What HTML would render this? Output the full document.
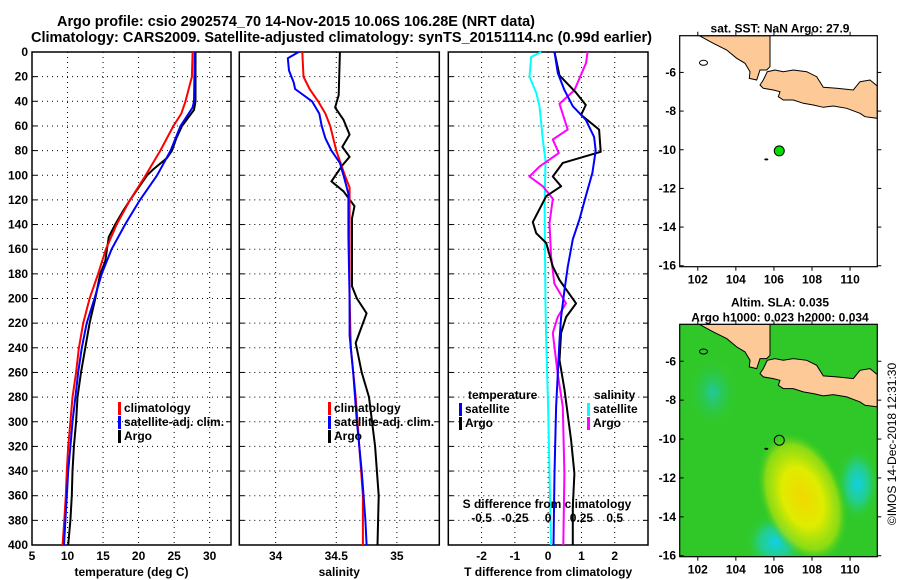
<!DOCTYPE html>
<html><head><meta charset="utf-8"><style>
body{margin:0;background:#fff;}
svg{display:block;font-family:"Liberation Sans",Arial,sans-serif;font-weight:bold;}
</style></head><body>
<svg id="c" width="900" height="580" viewBox="0 0 900 580">
<defs>
<radialGradient id="gy" cx="0.5" cy="0.5" r="0.5"><stop offset="0" stop-color="#f0d800"/><stop offset="0.45" stop-color="#e0ec00"/><stop offset="0.8" stop-color="#a0e010" stop-opacity="0.8"/><stop offset="1" stop-color="#30cc20" stop-opacity="0"/></radialGradient>
<radialGradient id="gc" cx="0.5" cy="0.5" r="0.5"><stop offset="0" stop-color="#10d0e8"/><stop offset="0.5" stop-color="#20d0a0" stop-opacity="0.8"/><stop offset="1" stop-color="#30cc20" stop-opacity="0"/></radialGradient>
<radialGradient id="gc2" cx="0.5" cy="0.5" r="0.5"><stop offset="0" stop-color="#20c8a0"/><stop offset="1" stop-color="#30c830" stop-opacity="0"/></radialGradient>
<clipPath id="m2clip"><rect x="679.7" y="324.3" width="197.6" height="232.4"/></clipPath>
<clipPath id="m1clip"><rect x="679.7" y="35.7" width="197.6" height="231"/></clipPath>
</defs>
<text x="57" y="26" font-size="14.5" textLength="478" lengthAdjust="spacingAndGlyphs">Argo profile: csio 2902574_70 14-Nov-2015 10.06S 106.28E (NRT data)</text>
<text x="31" y="42" font-size="14.5" textLength="621" lengthAdjust="spacingAndGlyphs">Climatology: CARS2009. Satellite-adjusted climatology: synTS_20151114.nc (0.99d earlier)</text>
<g id="g"></g>
</svg>
<script>
// ---- data ----
const depthTicks = [0,20,40,60,80,100,120,140,160,180,200,220,240,260,280,300,320,340,360,380,400];
const tempTicks = [5,10,15,20,25,30];
const salTicks = [34,34.5,35];
const tdiffTicks = [-2,-1,0,1,2];
const sdiffTicks = [-0.5,-0.25,0,0.25,0.5];
const sdiffTickLabels = ["-0.5","-0.25","0","0.25","0.5"];
const latTicks = [-6,-8,-10,-12,-14,-16];
const lonTicks = [102,104,106,108,110];

const climTDepth = [0,20,40,50,60,80,100,120,140,160,180,200,220,240,260,280,300,320,340,360,380,400];
const climTemp =   [27.6,27.5,26.6,26,24.9,23.05,21.0,18.8,16.9,15.4,14.3,13.1,12.2,11.6,11.2,10.7,10.4,10.1,9.9,9.75,9.55,9.3];
const satTDepth = [0,40,45,60,80,100,120,140,160,180,200,220,240,260,280,300,320,340,360,380,400];
const satTemp =   [27.9,27.8,27.6,25.9,24.5,22.6,20.2,18.1,16.2,14.8,13.8,12.7,12.0,11.5,11.1,10.7,10.4,10.1,9.9,9.7,9.5];
const argoTDepth = [0,40,47,60,70,80,86,95,100,120,130,140,150,170,180,200,220,240,260,280,300,320,340,360,380,400];
const argoTemp =   [28.0,28.0,27.8,26.1,25.3,24.7,24.0,22.1,21.2,18.8,17.7,16.7,15.8,15.3,14.6,13.9,13.1,12.5,11.9,11.4,11.2,10.9,10.7,10.6,10.4,10.1];

const climSDepth = [0,20,30,40,50,60,80,100,110,200,240,280,320,360,400];
const climSal =    [34.22,34.23,34.28,34.35,34.41,34.45,34.50,34.57,34.61,34.61,34.62,34.66,34.69,34.72,34.72];
const satSDepth = [0,5,15,25,30,40,50,60,70,80,90,100,115,150,200,230,260,300,340,380,400];
const satSal =    [34.19,34.10,34.11,34.15,34.16,34.30,34.36,34.38,34.41,34.46,34.53,34.56,34.60,34.60,34.61,34.61,34.64,34.67,34.71,34.74,34.75];
const argoSDepth = [0,35,45,55,67,77,85,92,105,113,125,135,190,200,212,236,260,280,320,360,400];
const argoSal =    [34.53,34.52,34.49,34.56,34.61,34.55,34.61,34.55,34.46,34.56,34.65,34.63,34.63,34.67,34.75,34.66,34.71,34.77,34.82,34.85,34.84];

const satDTDepth = [0,17,31,44,55,69,80,98,117,136,152,174,193,215,234,261,288,342,400];
const satDT =      [0.19,0.29,0.49,0.74,1.13,1.38,1.43,1.33,1.13,0.94,0.74,0.59,0.49,0.39,0.34,0.29,0.24,0.19,0.16];
const argoDTDepth = [0,19,33,43,51,63,81,90,101,109,117,138,147,155,174,185,204,215,228,250,274,315,342,369,400];
const argoDT =      [0.19,0.34,0.84,1.13,0.99,1.53,1.58,0.44,0.14,0.39,-0.06,-0.46,-0.36,-0.06,0.14,0.34,0.84,0.54,0.39,0.34,0.49,0.69,0.79,0.74,0.74];
const satDSDepth = [0,4,20,33,44,71,88,125,206,233,288,342,400];
const satDS =      [-0.052,-0.127,-0.14,-0.09,-0.065,-0.04,-0.02,-0.027,-0.02,-0.015,0,0.01,0.022];
const argoDSDepth = [0,9,31,42,63,71,82,93,101,109,119,139,166,188,204,215,228,261,288,342,400];
const argoDS =      [0.296,0.284,0.197,0.085,0.147,0.035,0.08,-0.065,-0.14,-0.04,0.035,0.01,0.022,0.047,0.134,0.072,0.035,0.072,0.11,0.122,0.114];

const argoLon = [106.28];
const argoLat = [-10.06];

// ---- drawing ----
const NS="http://www.w3.org/2000/svg";
const G=document.getElementById('g');
function el(tag,attrs,parent,txt){const e=document.createElementNS(NS,tag);for(const k in attrs)e.setAttribute(k,attrs[k]);if(txt!==undefined)e.textContent=txt;(parent||G).appendChild(e);return e;}
const pTop=52,pBot=545;
const yD=d=>pTop+(d/400)*(pBot-pTop);
const panels=[
 {x0:32,x1:231,min:5,max:33,ticks:tempTicks,label:'temperature (deg C)',name:'temperature'},
 {x0:239.3,x1:439.3,min:33.7,max:35.35,ticks:salTicks,label:'salinity',name:'salinity'},
 {x0:448.3,x1:648,min:-3,max:3,ticks:tdiffTicks,label:'T difference from climatology',name:'difference'}
];
panels.forEach((p,i)=>{
 p.sx=v=>p.x0+(v-p.min)/(p.max-p.min)*(p.x1-p.x0);
 const g=el('g',{});
 
 
 depthTicks.forEach(d=>{
  if(d>0&&d<400){const l=el('line',{x1:p.x0,x2:p.x1,y1:yD(d),y2:yD(d),stroke:'#000','stroke-dasharray':'1,4','stroke-width':1},g);
   }
  el('line',{x1:p.x0,x2:p.x0+5,y1:yD(d),y2:yD(d),stroke:'#000'},g);
  el('line',{x1:p.x1-5,x2:p.x1,y1:yD(d),y2:yD(d),stroke:'#000'},g);
  if(i===0){const t=el('text',{x:28,y:yD(d)+4,'font-size':12,'text-anchor':'end'},g,String(d));
   }
 });
 p.ticks.forEach(v=>{
  const x=p.sx(v);
  if(x>p.x0+1){const l=el('line',{x1:x,x2:x,y1:pTop,y2:pBot,stroke:'#000','stroke-dasharray':'1,4'},g);
   }
  const t=el('text',{x:x,y:560,'font-size':12,'text-anchor':'middle'},g,String(v));
  
 });
 const fr=el('rect',{x:p.x0,y:pTop,width:p.x1-p.x0,height:pBot-pTop,fill:'none',stroke:'#000','stroke-width':1.5},g);
 
 const at=el('text',{x:(p.x0+p.x1)/2,y:576,'font-size':12,'text-anchor':'middle'},g,p.label);
 
});
function line(p,vals,deps,color,name,sc){
 const pts=vals.map((v,k)=>(p.sx(v*(sc||1))).toFixed(1)+','+yD(deps[k]).toFixed(1)).join(' ');
 const pl=el('polyline',{points:pts,fill:'none',stroke:color,'stroke-width':2,'stroke-linejoin':'round'});
 
 
}
line(panels[0],argoTemp,argoTDepth,'#000','argo-temperature-line');
line(panels[0],climTemp,climTDepth,'#f00','climatology-temperature-line');
line(panels[0],satTemp,satTDepth,'#00f','satellite-temperature-line');
line(panels[1],argoSal,argoSDepth,'#000','argo-salinity-line');
line(panels[1],climSal,climSDepth,'#f00','climatology-salinity-line');
line(panels[1],satSal,satSDepth,'#00f','satellite-salinity-line');
line(panels[2],satDS,satDSDepth,'#0ff','satellite-salinity-diff-line',4);
line(panels[2],argoDS,argoDSDepth,'#f0f','argo-salinity-diff-line',4);
line(panels[2],argoDT,argoDTDepth,'#000','argo-temperature-diff-line');
line(panels[2],satDT,satDTDepth,'#00f','satellite-temperature-diff-line');
sdiffTicks.forEach((v,k)=>{
 const t=el('text',{x:panels[2].sx(v*4),y:522,'font-size':12,'text-anchor':'middle'},G,sdiffTickLabels[k]);
 
});
const st=el('text',{x:547,y:508,'font-size':12,'text-anchor':'middle'},G,'S difference from climatology');

function legend(x,y,items,name){
 const g=el('g',{});
 
 
 items.forEach((it,k)=>{
  el('rect',{x:x,y:y+k*14-10,width:3,height:13,fill:it[1]},g);
  const t=el('text',{x:x+6,y:y+k*14,'font-size':12},g,it[0]);
  
 });
}
legend(118,412,[['climatology','#f00'],['satellite-adj. clim.','#00f'],['Argo','#000']],'temperature-legend');
legend(328,412,[['climatology','#f00'],['satellite-adj. clim.','#00f'],['Argo','#000']],'salinity-legend');
const lt=el('text',{x:468,y:399,'font-size':12},G,'temperature');
const ls=el('text',{x:594,y:399,'font-size':12},G,'salinity');
legend(459,413,[['satellite','#00f'],['Argo','#000']],'diff-temperature-legend');
legend(587,413,[['satellite','#0ff'],['Argo','#f0f']],'diff-salinity-legend');

// ---- maps ----
const mx0=679.7,mx1=877.3,lonMin=101.05,lonMax=111.43,latTop=-4.1,latBot=-16.05;
const sumatra=[[118,107],[160,130],[200,150],[230,175],[255,190],[270,215],[268,235],[290,240],[300,210],[320,210],[330,200],[330,107]];
const java=[[300,255],[310,240],[322,215],[345,210],[370,215],[400,210],[440,215],[470,230],[490,262],[530,265],[580,270],[600,245],[630,240],[652,258],[652,355],[615,350],[600,340],[560,325],[520,318],[490,322],[460,315],[430,310],[400,300],[370,300],[355,290],[360,275],[340,270],[310,265]];
function map(y0,y1,title,colored,name){
 const g=el('g',{});
 
 
 const sx=l=>mx0+(l-lonMin)/(lonMax-lonMin)*(mx1-mx0);
 const sy=l=>y0+(latTop-l)/(latTop-latBot)*(y1-y0);
 const off=y0-35.7;
 const cg=el('g',{'clip-path':colored?'url(#m2clip)':'url(#m1clip)'},g);
 el('rect',{x:mx0,y:y0,width:mx1-mx0,height:y1-y0,fill:colored?'#30c828':'#fff'},cg);
 if(colored){
  el('ellipse',{cx:sx(102.8),cy:sy(-7.6),rx:25,ry:35,fill:'url(#gc2)'},cg);
  el('ellipse',{cx:sx(110.4),cy:sy(-12.3),rx:22,ry:38,fill:'url(#gc)'},cg);
  el('ellipse',{cx:sx(106.1),cy:sy(-15.3),rx:32,ry:30,fill:'url(#gc)'},cg);
  el('ellipse',{cx:sx(107.5),cy:sy(-13),rx:42,ry:68,fill:'url(#gy)',transform:`rotate(-20 ${sx(107.5)} ${sy(-13)})`},cg);
 }
 [sumatra,java].forEach(poly=>{
  el('polygon',{points:poly.map(p=>(660+p[0]/3).toFixed(1)+','+(p[1]/3+off).toFixed(1)).join(' '),fill:'#fdc997',stroke:'#000','stroke-width':1},cg);
 });
 el('ellipse',{cx:sx(102.3),cy:sy(-5.5),rx:4,ry:2.5,fill:'none',stroke:'#000'},cg);
 el('ellipse',{cx:sx(105.6),cy:sy(-10.5),rx:2,ry:1,fill:'#000'},cg);
 const dot=el('circle',{cx:sx(argoLon[0]),cy:sy(argoLat[0]),r:5,fill:colored?'none':'#00dd00',stroke:'#000'},g);
 
 el('rect',{x:mx0,y:y0,width:mx1-mx0,height:y1-y0,fill:'none',stroke:'#000','stroke-width':1.2},g);
 latTicks.forEach(l=>{
  el('line',{x1:mx0,x2:mx0+4,y1:sy(l),y2:sy(l),stroke:'#000'},g);
  el('line',{x1:mx1,x2:mx1+4,y1:sy(l),y2:sy(l),stroke:'#000'},g);
  const t=el('text',{x:676,y:sy(l)+4,'font-size':12,'text-anchor':'end'},g,String(l));
  
 });
 lonTicks.forEach(l=>{
  el('line',{x1:sx(l),x2:sx(l),y1:y0-4,y2:y0,stroke:'#000'},g);
  el('line',{x1:sx(l),x2:sx(l),y1:y1,y2:y1+4,stroke:'#000'},g);
  const t=el('text',{x:sx(l),y:y1+17,'font-size':12,'text-anchor':'middle'},g,String(l));
  
 });
 title.forEach((s,k)=>{
  const t=el('text',{x:780,y:y0-title.length*15+12+k*15,'font-size':12,'text-anchor':'middle'},g,s);
  
 });
}
map(35.7,266.7,['sat. SST: NaN Argo: 27.9'],false,'sst-map');
map(324.3,556.7,['Altim. SLA: 0.035','Argo h1000: 0.023 h2000: 0.034'],true,'sla-map');
const cr=el('text',{x:0,y:0,'font-size':12,'font-weight':'normal','text-anchor':'middle',transform:'translate(896 444) rotate(-90)'},G,'©IMOS 14-Dec-2018 12:31:30');

</script>
</body></html>
